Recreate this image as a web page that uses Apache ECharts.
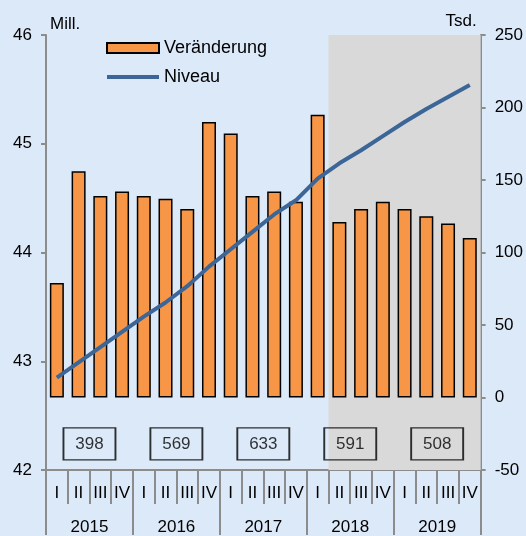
<!DOCTYPE html>
<html>
<head>
<meta charset="utf-8">
<script src="https://cdn.jsdelivr.net/npm/echarts@6/dist/echarts.min.js"></script>
<style>
  html, body { margin: 0; padding: 0; background: #dce9f8; }
  #chart { width: 526px; height: 536px; }
</style>
</head>
<body>
<div id="chart"></div>
<script>
var years = ['2015', '2016', '2017', '2018', '2019'];
var quarters = ['I', 'II', 'III', 'IV'];
// Veränderung (Tsd., rechte Achse)
var changeValues = [79, 156, 139, 142, 139, 137, 130, 190, 182, 139, 142, 135, 195, 121, 130, 135, 130, 125, 120, 110];
// Niveau (Mill., linke Achse)
var levelValues = [42.85, 42.99, 43.13, 43.27, 43.41, 43.54, 43.69, 43.87, 44.03, 44.19, 44.35, 44.48, 44.68, 44.82, 44.94, 45.07, 45.20, 45.32, 45.43, 45.54];
// Jahressummen in den Kästen
var yearTotals = ['398', '569', '633', '591', '508'];
// grau hinterlegter Bereich (Quartalsindex, Beginn / Ende)
var shadeRange = [13, 20];

var categories = [];
years.forEach(function (y) {
    quarters.forEach(function (q) {
        categories.push(y + ' ' + q);
    });
});

var boxData = years.map(function (y, i) {
    return [i * 4 + 2, 42.24];
});

var font = '"Liberation Sans", Arial, sans-serif';
var axisGrey = '#8c8c8c';
var lineBlue = '#3c6598';

var chart = echarts.init(document.getElementById('chart'), null, { renderer: 'canvas' });

chart.setOption({
    backgroundColor: '#dce9f8',
    animation: false,
    textStyle: { fontFamily: font },
    grid: { left: 46, right: 44, top: 35, bottom: 65, containLabel: false },
    legend: {
        orient: 'vertical',
        left: 106,
        top: 38,
        padding: 0,
        itemWidth: 52,
        itemHeight: 10,
        itemGap: 9,
        symbolKeepAspect: true,
        textStyle: { fontSize: 18, color: '#000', fontFamily: font, lineHeight: 20 },
        data: [
            { name: 'Veränderung', icon: 'rect' },
            { name: 'Niveau', icon: 'path://M0,0H52V4H0Z', itemStyle: { color: lineBlue } }
        ]
    },
    xAxis: [
        {
            type: 'category',
            data: categories,
            position: 'bottom',
            axisLine: { show: true, onZero: false, lineStyle: { color: axisGrey, width: 2 } },
            axisTick: { show: true, interval: 0, length: 34, lineStyle: { color: axisGrey, width: 2 } },
            axisLabel: {
                interval: 0,
                margin: 15,
                fontSize: 17,
                color: '#000',
                fontFamily: font,
                formatter: function (v) { return v.split(' ')[1]; }
            }
        },
        {
            type: 'category',
            data: years,
            position: 'bottom',
            axisLine: { show: false, onZero: false },
            axisTick: { show: true, interval: 0, length: 65, lineStyle: { color: axisGrey, width: 2 } },
            axisLabel: { interval: 0, margin: 49, fontSize: 17, color: '#000', fontFamily: font }
        },
        {
            type: 'value',
            min: 0,
            max: 20,
            show: false
        }
    ],
    yAxis: [
        {
            type: 'value',
            min: 42,
            max: 46,
            interval: 1,
            name: 'Mill.',
            nameLocation: 'end',
            nameGap: 2,
            nameTextStyle: { fontSize: 17, color: '#000', align: 'left', padding: [0, 0, 0, 4], fontFamily: font },
            axisLine: { show: true, lineStyle: { color: axisGrey, width: 2 } },
            axisTick: { show: true, length: 5, lineStyle: { color: axisGrey, width: 2 } },
            axisLabel: { margin: 14, fontSize: 17, color: '#000', fontFamily: font },
            splitLine: { show: false }
        },
        {
            type: 'value',
            min: -50,
            max: 250,
            interval: 50,
            position: 'right',
            name: 'Tsd.',
            nameLocation: 'end',
            nameGap: 5,
            nameTextStyle: { fontSize: 17, color: '#000', align: 'right', padding: [0, 4, 0, 0], fontFamily: font },
            axisLine: { show: true, lineStyle: { color: axisGrey, width: 2 } },
            axisTick: { show: true, length: 5, lineStyle: { color: axisGrey, width: 2 } },
            axisLabel: { margin: 14, fontSize: 17, color: '#000', fontFamily: font },
            splitLine: { show: false }
        }
    ],
    series: [
        {
            name: 'shade',
            type: 'line',
            xAxisIndex: 2,
            yAxisIndex: 0,
            data: [],
            silent: true,
            z: 0,
            markArea: {
                silent: true,
                itemStyle: { color: '#d9d9d9' },
                data: [[{ xAxis: shadeRange[0] }, { xAxis: shadeRange[1] }]]
            }
        },
        {
            name: 'Veränderung',
            type: 'bar',
            xAxisIndex: 0,
            yAxisIndex: 1,
            data: changeValues,
            barWidth: 14,
            z: 2,
            itemStyle: { color: '#f79646', borderColor: '#000', borderWidth: 1.5 }
        },
        {
            name: 'Niveau',
            type: 'line',
            xAxisIndex: 0,
            yAxisIndex: 0,
            data: levelValues,
            symbol: 'none',
            z: 3,
            lineStyle: { color: lineBlue, width: 4 },
            itemStyle: { color: lineBlue }
        },
        {
            name: 'totals',
            type: 'scatter',
            xAxisIndex: 2,
            yAxisIndex: 0,
            data: boxData,
            symbol: 'rect',
            symbolSize: [52, 32],
            silent: true,
            z: 4,
            itemStyle: { color: 'rgba(0,0,0,0)', borderColor: '#000', borderWidth: 1.5 },
            label: {
                show: true,
                position: 'inside',
                fontSize: 17,
                color: '#000',
                fontFamily: font,
                formatter: function (p) { return yearTotals[p.dataIndex]; }
            }
        }
    ]
});
</script>
</body>
</html>
